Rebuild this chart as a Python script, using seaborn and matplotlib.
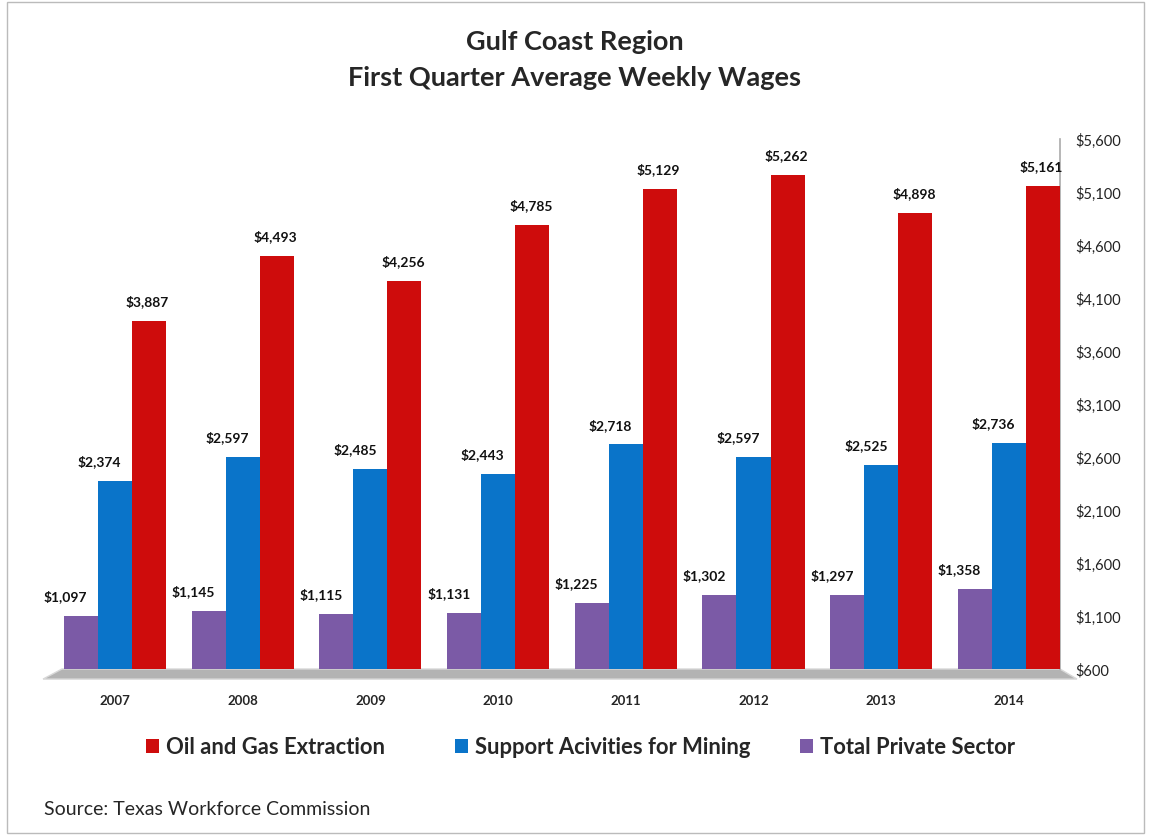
import matplotlib
matplotlib.use("Agg")
import matplotlib.pyplot as plt
import seaborn as sns
import pandas as pd
from matplotlib.patches import Polygon, Patch
from matplotlib.ticker import FuncFormatter

years = ["2007", "2008", "2009", "2010", "2011", "2012", "2013", "2014"]
oil_gas = [3887, 4493, 4256, 4785, 5129, 5262, 4898, 5161]
support_mining = [2374, 2597, 2485, 2443, 2718, 2597, 2525, 2736]
total_private = [1097, 1145, 1115, 1131, 1225, 1302, 1297, 1358]
y_ticks = [600, 1100, 1600, 2100, 2600, 3100, 3600, 4100, 4600, 5100, 5600]

series_names = ["Total Private Sector", "Support Acivities for Mining", "Oil and Gas Extraction"]
series_values = [total_private, support_mining, oil_gas]
colors = {"Total Private Sector": "#7B5AA6",
          "Support Acivities for Mining": "#0A74C9",
          "Oil and Gas Extraction": "#CE0C0C"}
label_shift = {"Total Private Sector": -11, "Support Acivities for Mining": -11,
               "Oil and Gas Extraction": -1}

rows = []
for name, vals in zip(series_names, series_values):
    for y, v in zip(years, vals):
        rows.append({"year": y, "series": name, "value": v})
df = pd.DataFrame(rows)

sns.set_theme(style="white")
plt.rcParams["font.family"] = ["Lato", "DejaVu Sans"]

W, H = 1149, 837
fig = plt.figure(figsize=(W / 100, H / 100), dpi=100)
ax = fig.add_axes([62 / W, 1 - 670 / H, (1060 - 62) / W, (670 - 140) / H])

sns.barplot(data=df, x="year", y="value", hue="series", hue_order=series_names,
            palette=colors, width=0.8, saturation=1, legend=False, ax=ax, zorder=3,
            linewidth=0, edgecolor="none")

ax.set_ylim(600, 5600)
ax.set_xlim(-0.415, 7.40)
ax.set_yticks(y_ticks)
ax.yaxis.tick_right()
ax.yaxis.set_major_formatter(FuncFormatter(lambda v, p: f"${v:,.0f}"))
ax.tick_params(axis="y", length=0, pad=11, labelsize=10.5, labelcolor="#222222")
ax.tick_params(axis="x", length=0, pad=18, labelsize=9.5)
for lab in ax.get_xticklabels():
    lab.set_fontweight("bold")
ax.set_xlabel("")
ax.set_ylabel("")
for s in ["left", "top", "bottom"]:
    ax.spines[s].set_visible(False)
ax.spines["right"].set_color("#AAAAAA")
ax.spines["right"].set_linewidth(1.2)

# floor
floor = Polygon([(0, 0), (1, 0), (1.017, -0.019), (-0.019, -0.019)], closed=True,
                transform=ax.transAxes, facecolor="#B3B3B3", edgecolor="#D8D8D8",
                lw=1, clip_on=False, zorder=1)
ax.add_patch(floor)

# value labels
for name, cont in zip(series_names, ax.containers):
    for bar in cont:
        h = bar.get_height()
        x = bar.get_x() + bar.get_width() / 2
        ax.annotate(f"${h:,.0f}", (x, h), xytext=(label_shift[name], 10),
                    textcoords="offset points", ha="center", va="bottom",
                    fontsize=10, fontweight="bold", color="#111111", zorder=5)

fig.text(0.5, 1 - 42 / H, "Gulf Coast Region", ha="center", va="center",
         fontsize=19.5, fontweight="bold")
fig.text(0.5, 1 - 78 / H, "First Quarter Average Weekly Wages", ha="center", va="center",
         fontsize=19.5, fontweight="bold")

legend_order = ["Oil and Gas Extraction", "Support Acivities for Mining", "Total Private Sector"]
legend_x = [146, 455, 800]
for name, lx in zip(legend_order, legend_x):
    lg = fig.legend([Patch(facecolor=colors[name], edgecolor="none")], [name],
                    loc="center left", bbox_to_anchor=(lx / W, 1 - 748 / H),
                    frameon=False, borderpad=0, borderaxespad=0,
                    handlelength=0.6, handleheight=0.6, handletextpad=0.3,
                    prop={"size": 15.8, "weight": "bold"})

fig.text(44 / W, 1 - 810 / H, "Source: Texas Workforce Commission", ha="left",
         va="center", fontsize=14)

fig.patches.append(plt.Rectangle((0.006, 0.004), 0.99, 0.992, transform=fig.transFigure,
                                 fill=False, edgecolor="#BBBBBB", lw=1))

fig.savefig("out.png", dpi=100)
